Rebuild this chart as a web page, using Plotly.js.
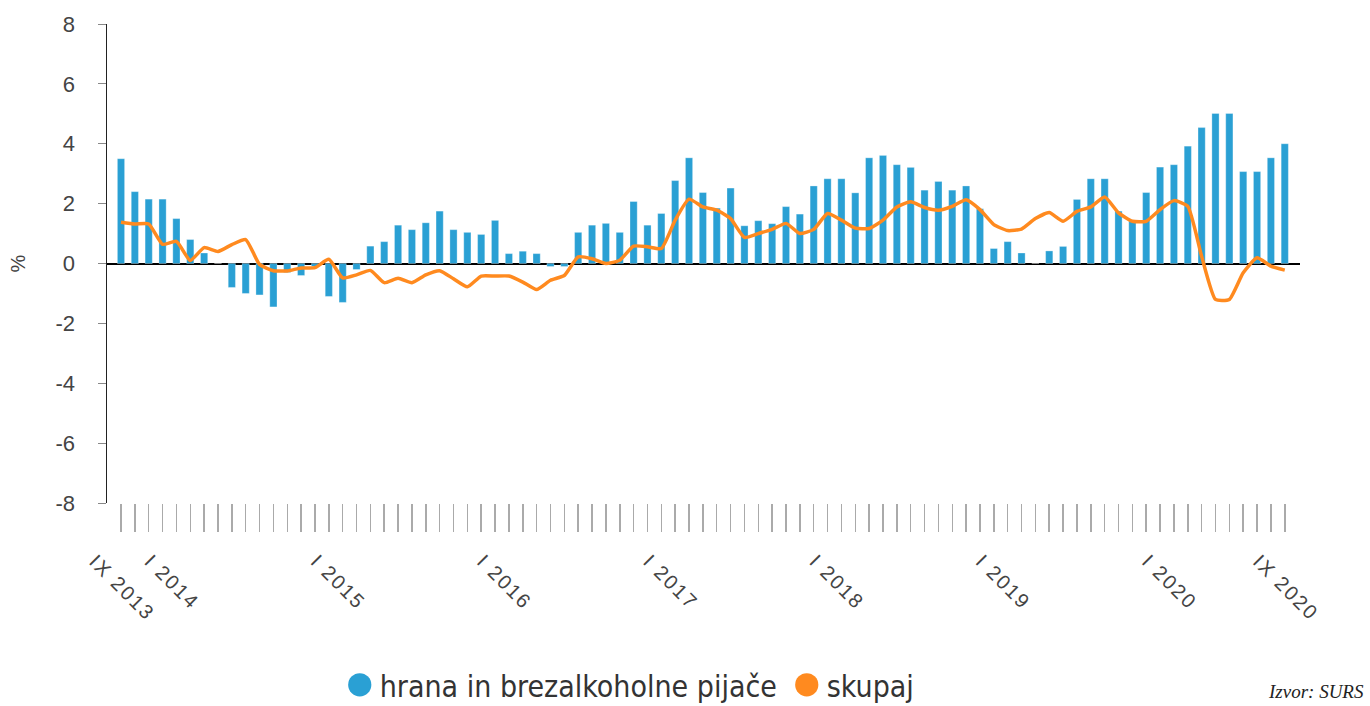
<!DOCTYPE html>
<html>
<head>
<meta charset="utf-8">
<script src="https://cdn.plot.ly/plotly-3.0.1.min.js"></script>
<style>
html,body{margin:0;padding:0;background:#fff;}
#chart{width:1370px;height:706px;}
#chart .xtick text{letter-spacing:2px;}
#chart .legend .scatterpts{transform:translate(20px,0px) scale(1.45);}
</style>
</head>
<body>
<div id="chart"></div>
<script>
const months = [
 "IX 2013","X 2013","XI 2013","XII 2013",
 "I 2014","II 2014","III 2014","IV 2014","V 2014","VI 2014","VII 2014","VIII 2014","IX 2014","X 2014","XI 2014","XII 2014",
 "I 2015","II 2015","III 2015","IV 2015","V 2015","VI 2015","VII 2015","VIII 2015","IX 2015","X 2015","XI 2015","XII 2015",
 "I 2016","II 2016","III 2016","IV 2016","V 2016","VI 2016","VII 2016","VIII 2016","IX 2016","X 2016","XI 2016","XII 2016",
 "I 2017","II 2017","III 2017","IV 2017","V 2017","VI 2017","VII 2017","VIII 2017","IX 2017","X 2017","XI 2017","XII 2017",
 "I 2018","II 2018","III 2018","IV 2018","V 2018","VI 2018","VII 2018","VIII 2018","IX 2018","X 2018","XI 2018","XII 2018",
 "I 2019","II 2019","III 2019","IV 2019","V 2019","VI 2019","VII 2019","VIII 2019","IX 2019","X 2019","XI 2019","XII 2019",
 "I 2020","II 2020","III 2020","IV 2020","V 2020","VI 2020","VII 2020","VIII 2020","IX 2020"
];
const shownTicks = ["IX 2013","I 2014","I 2015","I 2016","I 2017","I 2018","I 2019","I 2020","IX 2020"];

const hrana = [
 3.5, 2.4, 2.15, 2.15,
 1.5, 0.8, 0.35, 0.0, -0.8, -1.0, -1.05, -1.45, -0.3, -0.4, -0.1, -1.1,
 -1.3, -0.2, 0.58, 0.73, 1.28, 1.13, 1.36, 1.75, 1.13, 1.04, 0.97, 1.44,
 0.33, 0.41, 0.33, -0.1, -0.1, 1.04, 1.28, 1.34, 1.04, 2.07, 1.28, 1.67,
 2.77, 3.53, 2.37, 1.85, 2.52, 1.26, 1.43, 1.33, 1.9, 1.65, 2.59, 2.83,
 2.83, 2.36, 3.53, 3.61, 3.3, 3.21, 2.45, 2.74, 2.45, 2.59, 1.83, 0.5,
 0.73, 0.35, 0.0, 0.42, 0.57, 2.14, 2.83, 2.83, 1.75, 1.41, 2.37, 3.22,
 3.3, 3.92, 4.54, 5.01, 5.01, 3.07, 3.07, 3.53, 4.0
];
const skupaj = [
 1.38, 1.32, 1.32, 0.64,
 0.74, 0.1, 0.53, 0.4, 0.63, 0.8, -0.03, -0.24, -0.25, -0.15, -0.14, 0.14,
 -0.48, -0.38, -0.23, -0.64, -0.49, -0.64, -0.38, -0.24, -0.51, -0.78, -0.42, -0.42,
 -0.42, -0.62, -0.87, -0.56, -0.4, 0.22, 0.16, 0.0, 0.11, 0.58, 0.56, 0.5,
 1.45, 2.15, 1.89, 1.78, 1.5, 0.87, 1.0, 1.14, 1.34, 1.0, 1.14, 1.67,
 1.45, 1.18, 1.17, 1.45, 1.89, 2.06, 1.87, 1.78, 1.91, 2.13, 1.8, 1.3,
 1.1, 1.15, 1.5, 1.7, 1.41, 1.74, 1.89, 2.22, 1.69, 1.41, 1.41, 1.8,
 2.1, 1.91, 0.24, -1.2, -1.2, -0.31, 0.19, -0.09, -0.22
];
const seriesNames = ["hrana in brezalkoholne pijače", "skupaj"];
const yTicks = [-8, -6, -4, -2, 0, 2, 4, 6, 8];
const yTickLabels = ["-8", "-6", "-4", "-2", "0", "2", "4", "6", "8"];

const blue = "#2aa0d4";
const orange = "#ff8a1f";

const traces = [
 {type:"bar", x:months, y:hrana, name:seriesNames[0], showlegend:false,
  marker:{color:blue, line:{color:"rgba(255,255,255,0.6)", width:0.5}}, width:0.52},
 {type:"scatter", mode:"lines", x:months, y:skupaj, name:seriesNames[1], showlegend:false,
  line:{color:orange, width:3.5, shape:"spline", smoothing:0.5}},
 {type:"scatter", mode:"markers", x:[null], y:[null], name:seriesNames[0],
  marker:{color:blue, size:16, symbol:"circle"}},
 {type:"scatter", mode:"markers", x:[null], y:[null], name:seriesNames[1],
  marker:{color:orange, size:16, symbol:"circle"}}
];

const layout = {
 width:1370, height:706,
 margin:{l:107, r:70, t:24, b:203},
 paper_bgcolor:"#fff", plot_bgcolor:"#fff",
 showlegend:true,
 font:{family:"Liberation Sans, Arial, sans-serif", color:"#444", size:20},
 xaxis:{
  type:"category",
  range:[-1.01, 85.1],
  tickmode:"array",
  tickvals:months,
  ticktext:months.map(m => shownTicks.includes(m) ? m : ""),
  tickangle:45,
  ticks:"outside", ticklen:28, tickwidth:1.5, tickcolor:"#aaa",
  showgrid:false, showline:false, zeroline:false,
  tickfont:{family:"Liberation Sans, Arial, sans-serif", size:20, color:"#444"},
  ticklabelshift:-26, ticklabelstandoff:10
 },
 yaxis:{
  range:[-8, 8],
  tickmode:"array", tickvals:yTicks, ticktext:yTickLabels,
  ticks:"outside", ticklen:8, tickwidth:1, tickcolor:"#888",
  showline:true, linecolor:"#222", linewidth:1.5,
  showgrid:false,
  zeroline:true, zerolinecolor:"#000", zerolinewidth:2,
  tickfont:{family:"Liberation Sans, Arial, sans-serif", size:22, color:"#444"},
  ticklabelstandoff:18,
  title:{text:"%", font:{size:20, color:"#444"}, standoff:24}
 },
 legend:{
  orientation:"h",
  xref:"container", yref:"container",
  x:0.248, xanchor:"left",
  y:0.03, yanchor:"middle",
  font:{family:"DejaVu Sans Condensed, DejaVu Sans, sans-serif", size:30, color:"#333"},
  itemwidth:30, traceorder:"normal",
  entrywidth:402, entrywidthmode:"pixels"
 },
 annotations:[{
  text:"<i>Izvor: SURS</i>", showarrow:false,
  xref:"paper", yref:"paper",
  x:1.055, xanchor:"right", y:-0.393, yanchor:"middle",
  font:{family:"Liberation Serif, serif", size:19, color:"#222"}
 }]
};

Plotly.newPlot("chart", traces, layout, {displayModeBar:false, staticPlot:true});
</script>
</body>
</html>
